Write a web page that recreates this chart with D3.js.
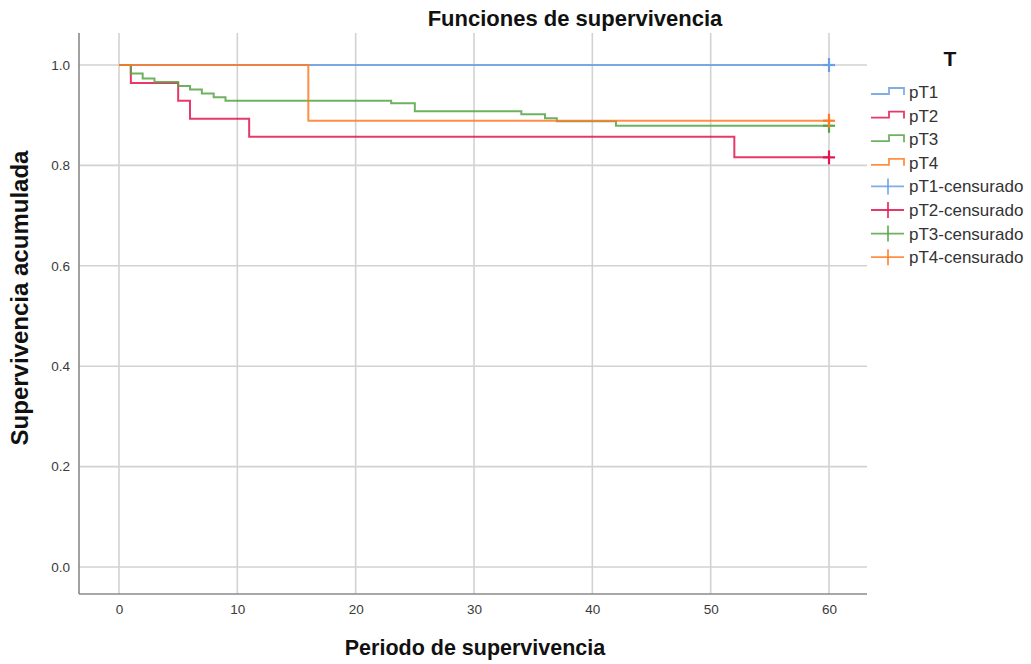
<!DOCTYPE html>
<html><head><meta charset="utf-8">
<script src="https://cdn.jsdelivr.net/npm/d3@7"></script>
<style>body{margin:0;background:#fff;} svg{display:block;font-family:"Liberation Sans",Arial,sans-serif;}</style>
</head><body><svg id="c" width="1031" height="664"></svg>
<script>
const groups = ["pT1","pT2","pT3","pT4"];
const colors = ["#6a9fe3","#e3164f","#55a545","#ff7a26"];
const pT1Times = [0];
const pT1Surv = [1];
const pT2Times = [0,1,5,6,11,52];
const pT2Surv = [1,0.964,0.929,0.893,0.857,0.816];
const pT3Times = [0,1,2,3,5,6,7,8,9,23,25,34,36,37,42];
const pT3Surv = [1,0.983,0.973,0.966,0.958,0.951,0.943,0.936,0.929,0.924,0.908,0.902,0.894,0.888,0.879];
const pT4Times = [0,16];
const pT4Surv = [1,0.889];
const censorTime = [60,60,60,60];
const xTicks = [0,10,20,30,40,50,60];
const yTicks = [0,0.2,0.4,0.6,0.8,1.0];
const legendLabels = ["pT1","pT2","pT3","pT4","pT1-censurado","pT2-censurado","pT3-censurado","pT4-censurado"];

const series = [[pT1Times,pT1Surv],[pT2Times,pT2Surv],[pT3Times,pT3Surv],[pT4Times,pT4Surv]];
const svg = d3.select("#c");
const x = d3.scaleLinear().domain([0,60]).range([119,829]);
const y = d3.scaleLinear().domain([0,1]).range([567,65]);
const L = 79, R = 867, T = 33, B = 594;

// grid
const g = svg.append("g");
g.selectAll(".hg").data(yTicks).enter().append("line")
  .attr("x1",L).attr("x2",R).attr("y1",d=>y(d)).attr("y2",d=>y(d))
  .attr("stroke","#d2d2d2").attr("stroke-width",1.6);
g.selectAll(".vg").data(xTicks).enter().append("line")
  .attr("y1",T).attr("y2",B).attr("x1",d=>x(d)).attr("x2",d=>x(d))
  .attr("stroke","#d2d2d2").attr("stroke-width",1.6);

// axes
const xAxis = d3.axisBottom(x).tickValues(xTicks).tickSize(0).tickPadding(10).tickFormat(d3.format("d"));
const yAxis = d3.axisLeft(y).tickValues(yTicks).tickSize(0).tickPadding(9).tickFormat(d3.format(".1f"));
const xa = svg.append("g").attr("transform",`translate(0,${B})`).call(xAxis);
const ya = svg.append("g").attr("transform",`translate(${L},0)`).call(yAxis);
[xa,ya].forEach(a=>{a.select(".domain").remove();a.selectAll("text").attr("fill","#3a3a3a").style("font-size","13.5px").style("font-family","'Liberation Sans',Arial,sans-serif");});
svg.append("line").attr("x1",L).attr("x2",L).attr("y1",T).attr("y2",B).attr("stroke","#8a8a8a").attr("stroke-width",1.6);
svg.append("line").attr("x1",L).attr("x2",R).attr("y1",B).attr("y2",B).attr("stroke","#8a8a8a").attr("stroke-width",1.6);

// curves
const line = d3.line().x(d=>x(d[0])).y(d=>y(d[1])).curve(d3.curveStepAfter);
series.forEach((s,i)=>{
  const pts = s[0].map((t,j)=>[t,s[1][j]]);
  pts.push([censorTime[i], s[1][s[1].length-1]]);
  svg.append("path").attr("d",line(pts)).attr("fill","none")
    .attr("stroke",colors[i]).attr("stroke-width",2).attr("stroke-opacity",0.85);
});
// censor marks
series.forEach((s,i)=>{
  const cx = x(censorTime[i]), cy = y(s[1][s[1].length-1]);
  svg.append("line").attr("x1",cx-6).attr("x2",cx+6).attr("y1",cy).attr("y2",cy).attr("stroke",colors[i]).attr("stroke-width",2.2);
  svg.append("line").attr("x1",cx).attr("x2",cx).attr("y1",cy-7).attr("y2",cy+7).attr("stroke",colors[i]).attr("stroke-width",2.2);
});

// titles
svg.append("text").attr("x",575).attr("y",26).attr("text-anchor","middle")
  .style("font-size","22px").style("font-weight","bold").attr("fill","#111").text("Funciones de supervivencia");
svg.append("text").attr("x",475).attr("y",655).attr("text-anchor","middle")
  .style("font-size","21.5px").style("font-weight","bold").attr("fill","#111").text("Periodo de supervivencia");
svg.append("text").attr("transform","translate(28,298) rotate(-90)").attr("text-anchor","middle")
  .style("font-size","24px").style("font-weight","bold").attr("fill","#111").text("Supervivencia acumulada");

// legend
svg.append("text").attr("x",950).attr("y",66).attr("text-anchor","middle")
  .style("font-size","21px").style("font-weight","bold").attr("fill","#111").text("T");
const ly0 = 92, ldy = 23.6;
legendLabels.forEach((lab,i)=>{
  const cy = ly0 + i*ldy;
  const c = colors[i%4];
  if(i<4){
    svg.append("path").attr("d",`M871,${cy+2}H889V${cy-4}H904V${cy+3}`).attr("fill","none").attr("stroke",c).attr("stroke-width",1.8).attr("stroke-opacity",0.85);
  } else {
    svg.append("line").attr("x1",871).attr("x2",904).attr("y1",cy).attr("y2",cy).attr("stroke",c).attr("stroke-width",1.8).attr("stroke-opacity",0.85);
    svg.append("line").attr("x1",888).attr("x2",888).attr("y1",cy-8).attr("y2",cy+8).attr("stroke",c).attr("stroke-width",1.8).attr("stroke-opacity",0.85);
  }
  svg.append("text").attr("x",909).attr("y",cy+6).style("font-size","17px").attr("fill","#333").text(lab);
});
</script></body></html>
